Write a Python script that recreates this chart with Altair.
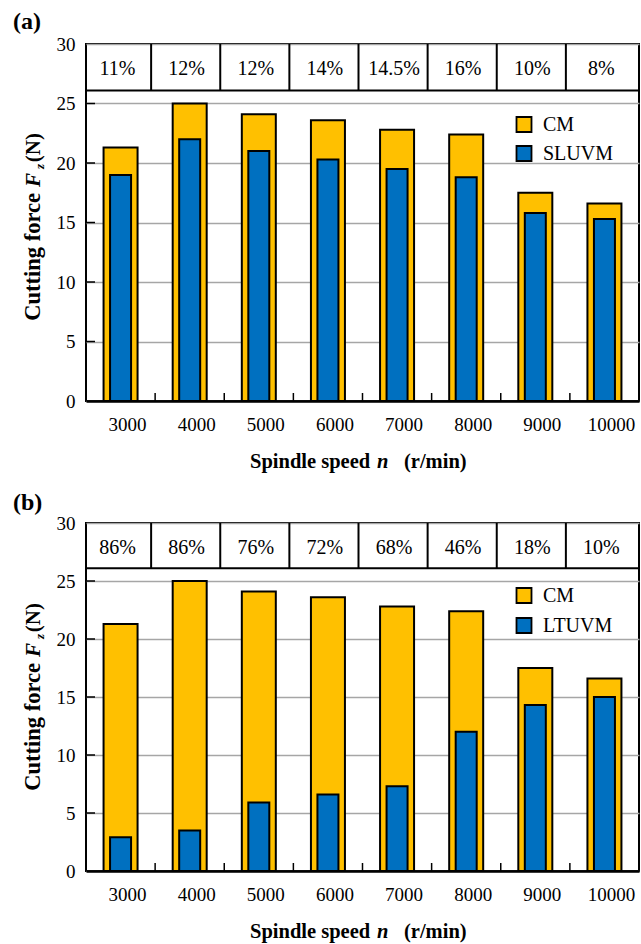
import altair as alt
import pandas as pd

speeds = ["3000", "4000", "5000", "6000", "7000", "8000", "9000", "10000"]
cm_force = [21.3, 25.0, 24.1, 23.6, 22.8, 22.4, 17.5, 16.6]
sluvm_force = [19.0, 22.0, 21.0, 20.3, 19.5, 18.8, 15.8, 15.3]
ltuvm_force = [2.9, 3.5, 5.9, 6.6, 7.3, 12.0, 14.3, 15.0]
pct_a = ["11%", "12%", "12%", "14%", "14.5%", "16%", "10%", "8%"]
pct_b = ["86%", "86%", "76%", "72%", "68%", "46%", "18%", "10%"]
y_ticks = [0, 5, 10, 15, 20, 25, 30]
band_low = 26.1
band_high = 30

YELLOW = "#FFC000"
BLUE = "#0070C0"
GRID = "#A6A6A6"
SERIF = "Liberation Serif"
W = 553


def panel(tag, uvm_name, uvm_vals, pcts, H, leg_y, leg_pad, yt):
    df = pd.DataFrame({
        "speed": speeds * 2,
        "series": ["CM"] * len(speeds) + [uvm_name] * len(speeds),
        "force": cm_force + uvm_vals,
    })
    pct_df = pd.DataFrame({"speed": speeds, "pct": pcts})
    bnd_df = pd.DataFrame({"speed": speeds[1:]})
    tick_df = pd.DataFrame({"force": y_ticks[1:-1]})
    one = pd.DataFrame({"k": [0]})

    yscale = alt.Scale(domain=[0, 30], nice=False, zero=True)
    xmain = alt.X(
        "speed:N", sort=speeds,
        scale=alt.Scale(paddingInner=0, paddingOuter=0),
        axis=alt.Axis(title=None, labelFont=SERIF, labelFontSize=19, labelColor="black",
                      labelAngle=0, ticks=False, tickSize=0, domain=True, domainColor="black",
                      domainWidth=2.5, labelPadding=14, labelOffset=7, grid=False),
    )
    ymain = alt.Y(
        "force:Q", scale=yscale,
        axis=alt.Axis(title=None, values=y_ticks, labelFont=SERIF, labelFontSize=19,
                      labelColor="black", ticks=False, tickSize=0, domain=False,
                      labelPadding=11, grid=True, gridColor=GRID, gridWidth=1.5),
    )
    xs = alt.X("speed:N", sort=speeds)
    xb = alt.X("speed:N", sort=speeds, bandPosition=0)
    ys = alt.Y("force:Q", scale=yscale)
    color = alt.Color(
        "series:N",
        scale=alt.Scale(domain=["CM", uvm_name], range=[YELLOW, BLUE]),
        legend=alt.Legend(title=None, orient="none", legendX=428, legendY=leg_y,
                          symbolType="square", symbolSize=225, symbolStrokeColor="black",
                          symbolStrokeWidth=1.8, symbolOpacity=1,
                          labelFont=SERIF, labelFontSize=20, labelColor="black",
                          labelOffset=9, rowPadding=leg_pad, padding=0),
    )

    base = alt.Chart(df)
    cm = base.transform_filter(alt.datum.series == "CM").mark_bar(
        size=34, stroke="black", strokeWidth=2, opacity=1
    ).encode(x=xmain, y=ymain, color=color)
    uv = base.transform_filter(alt.datum.series != "CM").mark_bar(
        size=21, stroke="black", strokeWidth=2, opacity=1
    ).encode(x=xs, y=ys, color=color)

    band_line = alt.Chart(one).mark_rule(color="black", strokeWidth=2).encode(
        y=alt.datum(band_low), x=alt.value(0), x2=alt.value(W))
    dividers = alt.Chart(bnd_df).mark_rule(color="black", strokeWidth=2, xOffset=-4).encode(
        x=xb, y=alt.datum(band_low), y2=alt.datum(band_high))
    pct_text = alt.Chart(pct_df).mark_text(
        font=SERIF, fontSize=20, color="black", baseline="middle", dx=-3, dy=2
    ).encode(x=xs, y=alt.value(23), text="pct:N")

    yt_marks = alt.Chart(tick_df).mark_rule(color="black", strokeWidth=1.5).encode(
        y=ys, x=alt.value(0), x2=alt.value(9))
    xt_marks = alt.Chart(bnd_df).mark_rule(color="black", strokeWidth=1.5).encode(
        x=xb, y=alt.value(H - 8), y2=alt.value(H))

    def txt(s, x, y, size=20.5, weight="bold", style="normal", angle=0, align="left"):
        kw = dict(text=s, font=SERIF, fontSize=size, fontWeight=weight, fontStyle=style,
                  color="black", align=align, baseline="alphabetic")
        if angle:
            kw["angle"] = angle
        return alt.Chart(one).mark_text(**kw).encode(x=alt.value(x), y=alt.value(y))

    labels = [
        txt(tag, -73, yt["tag"], size=24),
        txt("Cutting force", -46, yt["cf"], size=22.5, angle=270, align="right"),
        txt("F", -46, yt["F"], size=21, style="italic", angle=270, align="right"),
        txt("z", -42, yt["z"], size=13, style="italic", angle=270, align="right"),
        txt("(N)", -46, yt["N"], size=21, angle=270, align="right"),
        txt("Spindle speed", 164, H + 67),
        txt("n", 291, H + 67, style="italic"),
        txt("(r/min)", 318, H + 67),
    ]

    return alt.layer(cm, uv, band_line, dividers, pct_text, yt_marks, xt_marks, *labels).properties(
        width=W, height=H)


pa = panel("(a)", "SLUVM", sluvm_force, pct_a, 357, 70.5, 5,
           {"tag": -15, "cf": 149, "F": 129, "z": 120, "N": 89})
pb = panel("(b)", "LTUVM", ltuvm_force, pct_b, 348, 62.5, 6,
           {"tag": -13, "cf": 140, "F": 120, "z": 111, "N": 80})

chart = alt.vconcat(pa, pb, spacing=16).resolve_scale(color="independent").resolve_legend(
    color="independent"
).configure_view(stroke="black", strokeWidth=2).properties(
    padding={"left": 12, "top": 9, "right": 0, "bottom": 0}
)

chart.save("out.html", embed_options={"renderer": "svg", "actions": False})
